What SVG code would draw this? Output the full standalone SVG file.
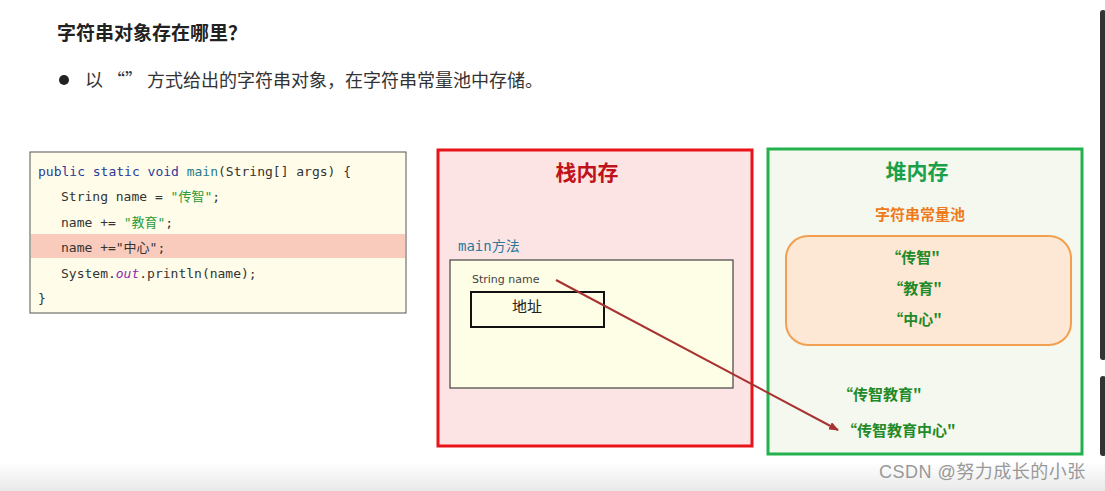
<svg xmlns="http://www.w3.org/2000/svg" width="1105" height="491" viewBox="0 0 1105 491">
<style>
.cjk{font-family:"Noto Sans CJK SC","Noto Sans",sans-serif}
.code{font-family:"DejaVu Sans Mono","Noto Sans CJK SC",monospace;font-size:13px;fill:#333}
.kw{fill:#2a3a9a}
.fn{fill:#2a7a8a}
.str{fill:#2a9a3a}
.pool{font-family:"Noto Sans CJK SC",sans-serif;font-size:15px;font-weight:bold;fill:#1f8a2a}
</style>
<defs>
<linearGradient id="bot" x1="0" y1="0" x2="0" y2="1">
<stop offset="0" stop-color="#ffffff"/>
<stop offset="1" stop-color="#e9e9e9"/>
</linearGradient>
<marker id="ah" markerWidth="10" markerHeight="8" refX="9" refY="4" orient="auto" markerUnits="userSpaceOnUse">
<path d="M0,0 L10,4 L0,8 z" fill="#a83232"/>
</marker>
</defs>
<rect width="1105" height="491" fill="#ffffff"/>
<rect x="0" y="462" width="1105" height="29" fill="url(#bot)"/>
<rect x="1100" y="10" width="6" height="350" rx="3" fill="#333"/>
<rect x="1100" y="376" width="6" height="80" rx="3" fill="#333"/>

<g id="title">
<text x="57" y="40" class="cjk" font-size="19" font-weight="bold" fill="#222">字符串对象存在哪里？</text>
</g>
<g id="bullet">
<circle cx="64" cy="80" r="5" fill="#222"/>
<text x="85" y="87" class="cjk" font-size="18" fill="#333">以 “” 方式给出的字符串对象，在字符串常量池中存储。</text>
</g>

<g id="code">
<rect x="30" y="152" width="376" height="161" fill="#fffde9" stroke="#555" stroke-width="1"/>
<rect x="31" y="234" width="374" height="24" fill="#f9cbbd"/>
<text x="38" y="176" class="code"><tspan class="kw">public static void</tspan> <tspan class="fn">main</tspan>(String[] args) {</text>
<text x="61" y="201" class="code">String name = <tspan class="str">"传智"</tspan>;</text>
<text x="61" y="227" class="code">name += <tspan class="str">"教育"</tspan>;</text>
<text x="61" y="252" class="code">name +="中心";</text>
<text x="61" y="278" class="code">System.<tspan fill="#8a2ab0" font-style="italic">out</tspan>.println(name);</text>
<text x="38" y="303" class="code">}</text>
</g>

<g id="stack">
<rect x="438" y="150" width="314" height="296" fill="#fde4e4" stroke="#e8141a" stroke-width="3"/>
<text x="587" y="180" text-anchor="middle" class="cjk" font-size="21" font-weight="bold" fill="#c0121a">栈内存</text>
<text x="458" y="251" font-family="DejaVu Sans Mono,Noto Sans CJK SC,monospace" font-size="14" fill="#2a7a9a">main<tspan class="cjk">方法</tspan></text>
<rect x="450" y="260" width="283" height="128" fill="#fefde6" stroke="#444" stroke-width="1.2"/>
<text x="472" y="283" font-family="DejaVu Sans,sans-serif" font-size="11" fill="#444">String name</text>
<rect x="471" y="292" width="133" height="35" fill="none" stroke="#111" stroke-width="2"/>
<text x="527" y="312" text-anchor="middle" class="cjk" font-size="15" fill="#222">地址</text>
</g>

<g id="heap">
<rect x="768" y="149" width="314" height="305" fill="#f4f8ef" stroke="#22b14c" stroke-width="3"/>
<text x="917" y="179" text-anchor="middle" class="cjk" font-size="21" font-weight="bold" fill="#1aa04a">堆内存</text>
<text x="920" y="220" text-anchor="middle" class="cjk" font-size="15" font-weight="bold" fill="#f07a1a">字符串常量池</text>
<rect x="786" y="236" width="285" height="109" rx="22" fill="#fde8d6" stroke="#f2a050" stroke-width="2"/>
<text x="913" y="263" text-anchor="middle" class="pool">“传智"</text>
<text x="915" y="294" text-anchor="middle" class="pool">“教育"</text>
<text x="915" y="325" text-anchor="middle" class="pool">“中心"</text>
<text x="838" y="400" class="pool">“传智教育"</text>
<text x="842" y="436" class="pool">“传智教育中心"</text>
</g>

<g id="connectors">
<line x1="556" y1="280" x2="838" y2="430" stroke="#a83232" stroke-width="2" marker-end="url(#ah)"/>
</g>

<text x="879" y="478" font-family="Liberation Sans,Noto Sans CJK SC,sans-serif" font-size="18" letter-spacing="0.5" fill="#999">CSDN @努力成长的小张</text>
</svg>
